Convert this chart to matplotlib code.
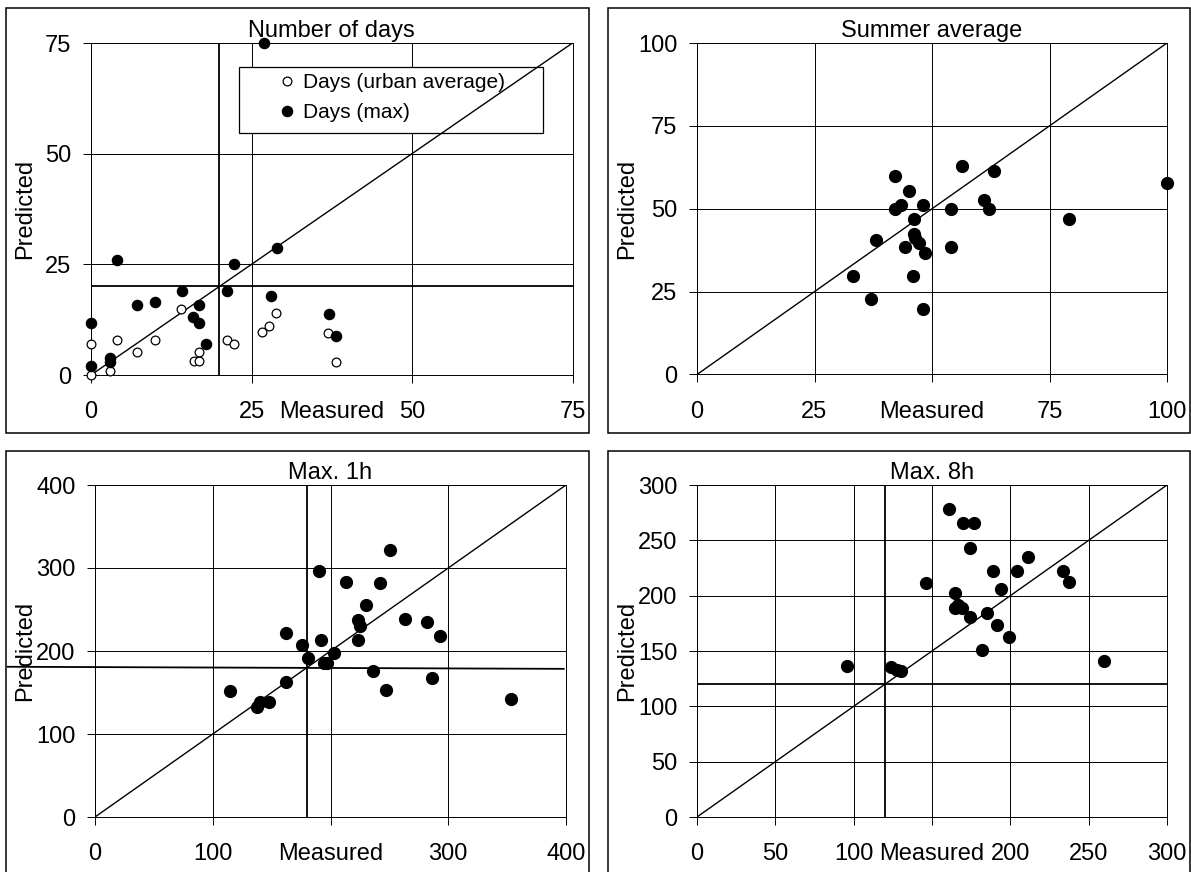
import numpy as np
import matplotlib
matplotlib.use("Agg")
import matplotlib.pyplot as plt
from matplotlib.patches import Rectangle

plt.rcParams['font.family'] = ['Liberation Sans', 'DejaVu Sans']

W, H = 1191, 872

# Number of days
days_urban_x = [0, 0, 2.9, 4.0, 7.1, 10.0, 14.0, 16.0, 16.9, 16.9, 21.2, 22.2, 26.7, 27.7, 28.8, 36.9, 38.1]
days_urban_y = [0, 7.1, 0.9, 7.8, 5.2, 7.8, 15.0, 3.1, 3.1, 5.2, 7.8, 7.1, 9.7, 11.0, 13.9, 9.6, 3.0]
days_max_x = [26.9, 4.0, 22.3, 29.0, 0, 0, 2.9, 2.9, 7.1, 10.0, 14.1, 16.9, 15.9, 16.9, 17.9, 21.2, 28.0, 37.1, 38.1]
days_max_y = [75, 25.9, 25.0, 28.6, 11.7, 2.0, 3.9, 2.9, 15.8, 16.6, 18.9, 15.9, 13.1, 11.7, 7.1, 18.9, 17.9, 13.8, 8.7]
days_threshold = 20
days_xlabels = ['0', '25', '50', '75']

# Summer average
summer_x = [42.1, 56.3, 63.2, 100, 45.0, 42.1, 43.4, 48.0, 54.1, 61.0, 62.2, 79.2, 46.2, 46.2, 46.4,
            47.3, 38.1, 44.2, 48.5, 54.1, 33.1, 46.0, 37.0, 48.0]
summer_y = [59.9, 62.9, 61.4, 57.9, 55.4, 50.0, 51.2, 51.2, 50.0, 52.6, 50.0, 46.9, 46.9, 42.5, 41.3,
            39.7, 40.7, 38.5, 36.8, 38.5, 29.6, 29.6, 22.9, 19.9]
summer_xlabels = ['0', '25', '', '75', '100']

# Max. 1h
max1h_x = [250.4, 190.6, 213.2, 242.3, 230.0, 263.3, 281.7, 223.6, 224.9, 293.0, 162.2, 192.2, 223.6, 176.1,
           202.9, 181.0, 194.5, 197.1, 236.5, 286.0, 247.2, 162.2, 114.7, 140.5, 137.6, 148.0, 353.2]
max1h_y = [321.8, 296.4, 283.5, 281.5, 255.6, 238.7, 235.5, 237.9, 229.8, 217.7, 221.8, 213.7, 212.9, 206.9,
           197.6, 191.5, 185.5, 185.5, 175.4, 167.3, 153.2, 162.1, 152.4, 139.1, 133.1, 139.1, 142.3]
max1h_vline = 180
max1h_hline_x = [-74, 398]
max1h_hline_y = [181.0, 178.5]
max1h_xlabels = ['0', '100', '', '300', '400']

# Max. 8h
max8h_x = [160.7, 169.7, 177.0, 174.5, 211.2, 189.1, 204.4, 233.5, 237.4, 146.1, 194.2, 164.6, 166.3,
           164.6, 169.2, 174.5, 185.2, 191.3, 199.0, 181.8, 259.7, 95.6, 123.8, 127.4, 129.9]
max8h_y = [278.2, 266.1, 266.1, 242.8, 234.6, 222.3, 222.3, 222.3, 212.6, 211.7, 205.6, 202.0, 192.0,
           189.0, 189.0, 180.8, 184.5, 173.3, 162.4, 150.6, 140.6, 136.7, 135.5, 132.4, 131.5]
max8h_threshold = 120
max8h_xlabels = ['0', '50', '100', '', '200', '250', '300']

FS = 17
TICK_LEN = 5.5
XPAD = 13.5


def px_axes(fig, x0, y0, x1, y1):
    return fig.add_axes([x0 / W, 1 - y1 / H, (x1 - x0) / W, (y1 - y0) / H])


def px_box(fig, x0, y0, x1, y1):
    fig.add_artist(Rectangle((x0 / W, 1 - y1 / H), (x1 - x0) / W, (y1 - y0) / H,
                             transform=fig.transFigure, fill=False, ec='black', lw=1.1))


def setup_axes(fig, ax, xmax, ymax, step_x, step_y, xlabels, title, ylabel_x):
    ax.set_xlim(0, xmax)
    ax.set_ylim(0, ymax)
    ax.set_xticks(np.arange(0, xmax + 1, step_x), xlabels)
    ax.set_yticks(np.arange(0, ymax + 1, step_y))
    ax.set_axisbelow(True)
    ax.grid(True, color='black', lw=0.7)
    ax.tick_params(direction='out', length=TICK_LEN, width=0.7, labelsize=FS)
    ax.tick_params(axis='x', pad=XPAD)
    ax.tick_params(axis='y', pad=8.5)
    for s in ax.spines.values():
        s.set_linewidth(0.7)
    ax.set_title(title, fontsize=FS, pad=4)
    ax.annotate('Measured', xy=(0.5, 0), xycoords='axes fraction',
                xytext=(0, -(TICK_LEN + XPAD)), textcoords='offset points',
                ha='center', va='top', fontsize=FS)
    pos = ax.get_position()
    fig.text(ylabel_x / W, pos.y0 + pos.height / 2, 'Predicted', rotation=90,
             ha='center', va='center', fontsize=FS)
    # 1:1 line
    ax.plot([0, xmax], [0, ymax], color='black', lw=1.0, zorder=3)


def dots(ax, x, y, ms=8.5):
    return ax.plot(x, y, 'o', ms=ms, mfc='black', mec='black', clip_on=False, zorder=4)[0]


def main():
    fig = plt.figure(figsize=(W / 100, H / 100), dpi=100)

    px_box(fig, 6, 8, 589, 433)
    px_box(fig, 608, 8, 1190, 433)
    px_box(fig, 6, 451, 589, 876)
    px_box(fig, 608, 451, 1190, 876)

    # Number of days
    ax1 = px_axes(fig, 91, 43, 572.5, 375)
    setup_axes(fig, ax1, 75, 75, 25, 25, days_xlabels, 'Number of days', 25)
    ax1.axvline(days_threshold, color='black', lw=1.3, zorder=2)
    ax1.axhline(days_threshold, color='black', lw=1.3, zorder=2)
    h_urban = ax1.plot(days_urban_x, days_urban_y, 'o', ms=6.3, mfc='white', mec='black',
                       mew=0.9, clip_on=False, zorder=4, label='Days (urban average)')[0]
    h_max = ax1.plot(days_max_x, days_max_y, 'o', ms=7.3, mfc='black', mec='black',
                     clip_on=False, zorder=4, label='Days (max)')[0]
    ax1.add_patch(Rectangle((0.307, 0.729), 0.632, 0.199, transform=ax1.transAxes,
                            fc='white', ec='black', lw=0.9, zorder=2.5))
    leg = ax1.legend(handles=[h_urban, h_max], loc='upper left', bbox_to_anchor=(0.389, 0.91),
                     frameon=False, borderaxespad=0, borderpad=0, handlelength=0.8,
                     handletextpad=0.37, labelspacing=0.53, fontsize=15)
    leg.set_zorder(5)

    # Summer average
    ax2 = px_axes(fig, 697, 43, 1167, 374.5)
    setup_axes(fig, ax2, 100, 100, 25, 25, summer_xlabels, 'Summer average', 627)
    dots(ax2, summer_x, summer_y)

    # Max. 1h
    ax3 = px_axes(fig, 95, 485, 566, 817)
    setup_axes(fig, ax3, 400, 400, 100, 100, max1h_xlabels, 'Max. 1h', 25)
    ax3.axvline(max1h_vline, color='black', lw=1.3, zorder=2)
    ax3.plot(max1h_hline_x, max1h_hline_y, color='black', lw=1.3, zorder=2, clip_on=False)
    dots(ax3, max1h_x, max1h_y)

    # Max. 8h
    ax4 = px_axes(fig, 697, 485, 1167, 817)
    setup_axes(fig, ax4, 300, 300, 50, 50, max8h_xlabels, 'Max. 8h', 627)
    ax4.axvline(max8h_threshold, color='black', lw=1.3, zorder=2)
    ax4.axhline(max8h_threshold, color='black', lw=1.3, zorder=2)
    dots(ax4, max8h_x, max8h_y)

    fig.savefig('out.png', dpi=100)


if __name__ == '__main__':
    main()
